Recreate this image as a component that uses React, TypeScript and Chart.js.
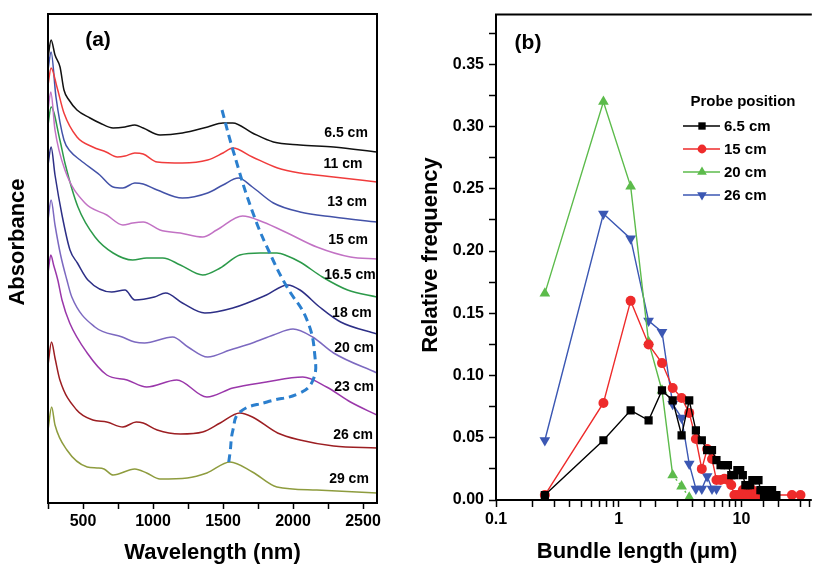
import React, { useEffect, useRef } from 'react';
import { Chart, registerables } from 'chart.js';

Chart.register(...registerables);

const FONT = '"Liberation Sans", Arial, Helvetica, sans-serif';

// ---------- Panel (a): absorbance spectra (offset), x = wavelength (nm) ----------
const wl65 = [250, 272, 300, 336, 364, 400, 457, 550, 620, 715, 800, 870, 930, 1050, 1210, 1390, 1500, 1570, 1710, 1860, 2050, 2290, 2600];
const ab65 = [4.45, 4.63, 4.48, 4.36, 4.13, 4.03, 3.93, 3.85, 3.80, 3.75, 3.76, 3.78, 3.75, 3.68, 3.70, 3.76, 3.80, 3.80, 3.70, 3.61, 3.58, 3.56, 3.51];

const wl11 = [250, 272, 314, 364, 457, 570, 665, 745, 800, 870, 930, 1030, 1210, 1390, 1500, 1570, 1710, 1890, 2050, 2290, 2600];
const ab11 = [4.18, 4.35, 4.16, 3.90, 3.66, 3.56, 3.51, 3.46, 3.47, 3.50, 3.49, 3.41, 3.40, 3.43, 3.50, 3.55, 3.46, 3.35, 3.30, 3.26, 3.21];

const wl13 = [250, 272, 307, 364, 414, 480, 620, 715, 785, 870, 930, 1030, 1210, 1390, 1500, 1610, 1710, 1860, 2050, 2290, 2600];
const ab13 = [4.33, 4.51, 4.06, 3.63, 3.51, 3.43, 3.28, 3.16, 3.15, 3.20, 3.19, 3.13, 3.05, 3.10, 3.18, 3.25, 3.16, 3.00, 2.91, 2.86, 2.81];

const wl15 = [250, 270, 300, 371, 514, 670, 785, 855, 930, 1050, 1195, 1355, 1455, 1640, 1785, 1960, 2170, 2410, 2600];
const ab15 = [3.93, 4.11, 3.73, 3.33, 3.00, 2.88, 2.78, 2.80, 2.81, 2.73, 2.70, 2.66, 2.73, 2.87, 2.81, 2.70, 2.56, 2.46, 2.44];

const wl165 = [250, 272, 335, 371, 464, 586, 715, 855, 955, 1070, 1195, 1355, 1480, 1620, 1765, 1885, 1960, 2050, 2210, 2390, 2600];
const ab165 = [3.78, 3.96, 3.63, 3.40, 2.96, 2.66, 2.50, 2.43, 2.45, 2.45, 2.38, 2.28, 2.35, 2.48, 2.50, 2.50, 2.47, 2.41, 2.26, 2.13, 2.06];

const wl18 = [250, 272, 300, 350, 407, 460, 535, 705, 800, 870, 1010, 1090, 1210, 1370, 1570, 1810, 1960, 2050, 2190, 2340, 2600];
const ab18 = [3.38, 3.56, 3.28, 2.88, 2.53, 2.40, 2.23, 2.11, 2.13, 2.03, 2.06, 2.10, 2.00, 1.90, 1.95, 2.08, 2.18, 2.13, 1.96, 1.81, 1.69];

const wl20 = [250, 272, 300, 340, 385, 420, 585, 780, 870, 940, 1140, 1250, 1390, 1550, 1710, 1860, 2000, 2140, 2290, 2600];
const ab20 = [2.83, 3.03, 2.78, 2.48, 2.23, 2.06, 1.76, 1.66, 1.61, 1.60, 1.66, 1.56, 1.46, 1.53, 1.60, 1.68, 1.74, 1.66, 1.50, 1.30];

const wl23 = [250, 270, 290, 320, 350, 405, 530, 670, 815, 955, 1170, 1385, 1570, 1810, 2070, 2240, 2410, 2600];
const ab23 = [2.30, 2.48, 2.38, 2.23, 2.03, 1.80, 1.50, 1.28, 1.23, 1.16, 1.23, 1.06, 1.15, 1.21, 1.26, 1.16, 1.01, 0.88];

const wl26 = [250, 275, 300, 335, 455, 570, 670, 785, 880, 930, 1030, 1195, 1355, 1480, 1620, 1710, 1890, 2050, 2290, 2600];
const ab26 = [1.38, 1.61, 1.45, 1.23, 0.93, 0.83, 0.81, 0.76, 0.81, 0.80, 0.73, 0.69, 0.71, 0.80, 0.90, 0.86, 0.70, 0.63, 0.57, 0.55];

const wl29 = [250, 276, 300, 385, 530, 600, 650, 715, 870, 955, 1050, 1245, 1385, 1550, 1710, 1885, 2170, 2600];
const ab29 = [0.73, 0.96, 0.78, 0.53, 0.36, 0.35, 0.34, 0.28, 0.34, 0.30, 0.24, 0.25, 0.30, 0.41, 0.31, 0.16, 0.13, 0.10];

const spectraWl = [wl65, wl11, wl13, wl15, wl165, wl18, wl20, wl23, wl26, wl29];
const spectraAb = [ab65, ab11, ab13, ab15, ab165, ab18, ab20, ab23, ab26, ab29];
const spectraNames = ['6.5 cm', '11 cm', '13 cm', '15 cm', '16.5 cm', '18 cm', '20 cm', '23 cm', '26 cm', '29 cm'];
const spectraColors = ['#111111', '#f03c3c', '#4352a8', '#c272c4', '#2c9a4a', '#2d2f86', '#7c69c0', '#9a37aa', '#9c1e22', '#8e9c3e'];

// label anchors (wavelength, absorbance) for curve names
const nameWl = [2379, 2357, 2386, 2393, 2407, 2421, 2436, 2436, 2429, 2400];
const nameAb = [3.70, 3.39, 3.01, 2.63, 2.28, 1.90, 1.55, 1.16, 0.68, 0.24];

// dashed guide following the peak position
const peakWl = [1493, 1571, 1714, 1857, 1957, 2100, 2157, 2143, 2050, 1814, 1621, 1571, 1550, 1536];
const peakAb = [3.93, 3.53, 2.90, 2.43, 2.16, 1.83, 1.46, 1.23, 1.10, 1.01, 0.91, 0.73, 0.50, 0.36];

const wlTicksMajor = [500, 1000, 1500, 2000, 2500];

// ---------- Panel (b): bundle length distribution ----------
const bins65 = [0.25, 0.75, 1.25, 1.75, 2.25, 2.75, 3.25, 3.75, 4.25, 4.75, 5.25, 5.75, 6.25, 6.75, 7.25, 7.75, 8.25, 8.75, 9.25, 9.75, 10.25, 10.75, 11.25, 11.75, 12.25, 12.75, 13.25, 13.75, 14.25, 14.75, 15.25, 15.75, 16.25, 16.75, 17.25, 17.75, 18.25, 18.75, 19.25];
const freq65 = [0.004, 0.048, 0.072, 0.064, 0.088, 0.080, 0.052, 0.080, 0.056, 0.048, 0.040, 0.040, 0.032, 0.028, 0.028, 0.028, 0.020, 0.020, 0.024, 0.024, 0.020, 0.012, 0.012, 0.012, 0.016, 0.016, 0.016, 0.016, 0.008, 0.008, 0.004, 0.004, 0.004, 0.008, 0.008, 0.008, 0.004, 0.004, 0.004];

const bins15 = [0.25, 0.75, 1.25, 1.75, 2.25, 2.75, 3.25, 3.75, 4.25, 4.75, 5.25, 5.75, 6.25, 6.75, 7.25, 7.75, 8.25, 8.75, 9.25, 9.75, 10.25, 10.75, 11.25, 11.75, 12.25, 12.75, 13.25, 13.75, 14.25, 14.75, 25.75, 30.25];
const freq15 = [0.004, 0.078, 0.160, 0.125, 0.110, 0.090, 0.082, 0.070, 0.049, 0.025, 0.041, 0.033, 0.016, 0.016, 0.017, 0.016, 0.012, 0.004, 0.004, 0.004, 0.008, 0.004, 0.004, 0.004, 0.008, 0.004, 0.004, 0.004, 0.004, 0.004, 0.004, 0.004];

const bins20 = [0.25, 0.75, 1.25, 1.75, 2.25, 2.75, 3.25, 3.75];
const freq20 = [0.166, 0.320, 0.252, 0.127, 0.088, 0.020, 0.011, 0.002];

const bins26 = [0.25, 0.75, 1.25, 1.75, 2.25, 2.75, 3.25, 3.75, 4.25, 4.75, 5.25, 5.75, 6.25];
const freq26 = [0.048, 0.230, 0.210, 0.144, 0.135, 0.077, 0.066, 0.029, 0.009, 0.009, 0.019, 0.009, 0.009];

const probeNames = ['6.5 cm', '15 cm', '20 cm', '26 cm'];
const probeColors = ['#000000', '#ee2b2b', '#5cbb4b', '#3b57b3'];
const probeStyles = ['rect', 'circle', 'triangle', 'triangle'];
const probeRotation = [0, 0, 0, 180];
const probeRadius = [5.8, 5, 6.2, 6.2];

const toXY = (xs: number[], ys: number[]) => xs.map((x, i) => ({ x, y: ys[i] }));

function drawMarker(ctx: CanvasRenderingContext2D, style: string, rot: number, x: number, y: number, r: number, color: string) {
  ctx.save();
  ctx.fillStyle = color;
  ctx.beginPath();
  if (style === 'rect') {
    const s = r * Math.SQRT1_2;
    ctx.rect(x - s, y - s, 2 * s, 2 * s);
  } else if (style === 'circle') {
    ctx.arc(x, y, r, 0, Math.PI * 2);
  } else {
    for (let k = 0; k < 3; k++) {
      const a = (rot * Math.PI) / 180 + (k * 2 * Math.PI) / 3;
      const px = x + Math.sin(a) * r;
      const py = y - Math.cos(a) * r;
      if (k === 0) ctx.moveTo(px, py);
      else ctx.lineTo(px, py);
    }
    ctx.closePath();
  }
  ctx.fill();
  ctx.restore();
}

function PanelA() {
  const ref = useRef<HTMLCanvasElement>(null);
  useEffect(() => {
    const canvas = ref.current!;
    const datasets: any[] = [
      {
        label: 'peak',
        data: toXY(peakWl, peakAb),
        borderColor: '#2b7fce',
        borderWidth: 3,
        borderDash: [8, 5],
        pointRadius: 0,
        tension: 0.45,
        order: 0,
      },
      ...spectraWl.map((wl, i) => ({
        label: spectraNames[i],
        data: toXY(wl, spectraAb[i]),
        borderColor: spectraColors[i],
        borderWidth: 1.5,
        pointRadius: 0,
        cubicInterpolationMode: 'monotone',
        order: 1,
      })),
    ];
    const deco = {
      id: 'decoA',
      afterDraw(chart: any) {
        const { ctx, chartArea: ca, scales } = chart;
        ctx.save();
        ctx.strokeStyle = '#000';
        ctx.lineWidth = 2;
        ctx.strokeRect(ca.left, ca.top, ca.right - ca.left, ca.bottom - ca.top);
        ctx.fillStyle = '#000';
        ctx.font = `bold 14px ${FONT}`;
        ctx.textAlign = 'center';
        ctx.textBaseline = 'middle';
        spectraNames.forEach((n, i) => {
          ctx.fillText(n, scales.x.getPixelForValue(nameWl[i]), scales.y.getPixelForValue(nameAb[i]));
        });
        ctx.font = `bold 21px ${FONT}`;
        ctx.fillText('(a)', ca.left + 50, ca.top + 26);
        ctx.font = `bold 22px ${FONT}`;
        ctx.fillText('Wavelength (nm)', (ca.left + ca.right) / 2, 553);
        ctx.translate(18, 242);
        ctx.rotate(-Math.PI / 2);
        ctx.fillText('Absorbance', 0, 0);
        ctx.restore();
      },
    };
    const chart = new Chart(canvas, {
      type: 'line',
      data: { datasets },
      options: {
        animation: false,
        responsive: false,
        events: [],
        layout: { padding: { top: 14, right: 23, left: 0, bottom: 0 } },
        plugins: { legend: { display: false }, tooltip: { enabled: false } },
        scales: {
          x: {
            type: 'linear',
            min: 250,
            max: 2600,
            grid: { display: true, drawOnChartArea: false, drawTicks: true, tickLength: 6, tickColor: '#000', tickWidth: 1.5 },
            border: { display: false },
            ticks: {
              stepSize: 250,
              includeBounds: false,
              autoSkip: false,
              maxRotation: 0,
              padding: 3,
              color: '#000',
              font: { family: FONT, size: 16, weight: 'bold' },
              callback: (v: any) => (wlTicksMajor.includes(Number(v)) ? String(v) : ''),
            },
            afterFit: (s: any) => { s.height = 65; },
          },
          y: {
            type: 'linear',
            min: 0,
            max: 4.89,
            grid: { display: false },
            border: { display: false },
            ticks: { display: false },
            afterFit: (s: any) => { s.width = 48; },
          },
        },
      } as any,
      plugins: [deco],
    });
    return () => chart.destroy();
  }, []);
  return <canvas ref={ref} width={400} height={568} style={{ position: 'absolute', left: 0, top: 0, width: 400, height: 568 }} />;
}

function PanelB() {
  const ref = useRef<HTMLCanvasElement>(null);
  useEffect(() => {
    const canvas = ref.current!;
    const binsAll = [bins65, bins15, bins20, bins26];
    const freqAll = [freq65, freq15, freq20, freq26];
    const datasets: any[] = binsAll.map((b, i) => ({
      label: probeNames[i],
      data: toXY(b, freqAll[i]),
      borderColor: probeColors[i],
      backgroundColor: probeColors[i],
      borderWidth: 1.4,
      pointStyle: probeStyles[i],
      pointRotation: probeRotation[i],
      pointRadius: probeRadius[i],
      pointBorderWidth: 0,
      pointBackgroundColor: probeColors[i],
      tension: 0,
      segment: i === 2 ? { borderDash: (c: any) => (c.p0DataIndex >= 5 ? [2, 3] : undefined) } : undefined,
    }));
    const deco = {
      id: 'decoB',
      afterDraw(chart: any) {
        const { ctx, chartArea: ca } = chart;
        ctx.save();
        ctx.strokeStyle = '#000';
        ctx.lineWidth = 2;
        ctx.beginPath();
        ctx.moveTo(ca.right + 2, ca.top);
        ctx.lineTo(ca.left, ca.top);
        ctx.lineTo(ca.left, ca.bottom);
        ctx.lineTo(ca.right + 2, ca.bottom);
        ctx.stroke();
        ctx.fillStyle = '#000';
        ctx.textBaseline = 'middle';
        ctx.textAlign = 'center';
        ctx.font = `bold 21px ${FONT}`;
        ctx.fillText('(b)', 128, 43);
        ctx.font = `bold 22px ${FONT}`;
        ctx.fillText('Bundle length (\u03bcm)', 237, 552);
        ctx.save();
        ctx.translate(31, 255);
        ctx.rotate(-Math.PI / 2);
        ctx.fillText('Relative frequency', 0, 0);
        ctx.restore();
        // legend
        ctx.font = `bold 15px ${FONT}`;
        ctx.fillText('Probe position', 343, 102);
        ctx.textAlign = 'left';
        const rows = [126, 149, 172, 195];
        probeNames.forEach((n, i) => {
          const y = rows[i];
          ctx.strokeStyle = probeColors[i];
          ctx.lineWidth = 1.5;
          ctx.beginPath();
          ctx.moveTo(283, y);
          ctx.lineTo(320, y);
          ctx.stroke();
          drawMarker(ctx, probeStyles[i], probeRotation[i], 302, y, probeRadius[i] - 0.6, probeColors[i]);
          ctx.fillStyle = '#000';
          ctx.fillText(n, 324, y + 1);
        });
        ctx.restore();
      },
    };
    const chart = new Chart(canvas, {
      type: 'line',
      data: { datasets },
      options: {
        animation: false,
        responsive: false,
        events: [],
        layout: { padding: { top: 13, right: 0, left: 0, bottom: 0 } },
        plugins: { legend: { display: false }, tooltip: { enabled: false } },
        scales: {
          x: {
            type: 'logarithmic',
            min: 0.1,
            max: 36,
            grid: { display: true, drawOnChartArea: false, drawTicks: true, tickLength: 7, tickColor: '#000', tickWidth: 1.5 },
            border: { display: false },
            ticks: {
              autoSkip: false,
              maxRotation: 0,
              padding: 3,
              color: '#000',
              font: { family: FONT, size: 16, weight: 'bold' },
              callback: (v: any) => {
                const n = Number(v);
                const l = Math.log10(n);
                return Math.abs(l - Math.round(l)) < 1e-9 && n <= 10.0001 ? String(n) : '';
              },
            },
            afterFit: (s: any) => { s.height = 68; },
          },
          y: {
            type: 'linear',
            min: 0,
            max: 0.39,
            grid: { display: true, drawOnChartArea: false, drawTicks: true, tickLength: 7, tickColor: '#000', tickWidth: 1.5 },
            border: { display: false },
            ticks: {
              stepSize: 0.025,
              includeBounds: false,
              autoSkip: false,
              padding: 5,
              color: '#000',
              font: { family: FONT, size: 16, weight: 'bold' },
              callback: (v: any) => {
                const n = Number(v);
                const q = n / 0.05;
                return Math.abs(q - Math.round(q)) < 1e-6 ? n.toFixed(2) : '';
              },
            },
            afterFit: (s: any) => { s.width = 96; },
          },
        },
      } as any,
      plugins: [deco],
    });
    return () => chart.destroy();
  }, []);
  return <canvas ref={ref} width={416} height={568} style={{ position: 'absolute', left: 400, top: 0, width: 416, height: 568 }} />;
}

export default function App() {
  return (
    <div style={{ position: 'fixed', left: 0, top: 0, width: 816, height: 568, background: '#fff', overflow: 'hidden' }}>
      <PanelA />
      <PanelB />
    </div>
  );
}
